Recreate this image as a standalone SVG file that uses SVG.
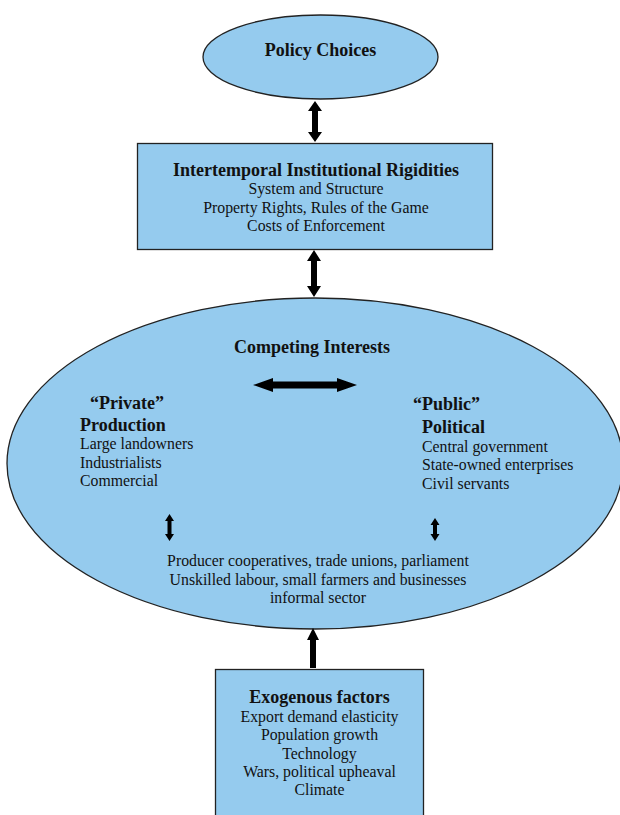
<svg xmlns="http://www.w3.org/2000/svg" width="620" height="815" viewBox="0 0 620 815">
<style>
.shape{fill:#95CBEE;stroke:#222;stroke-width:1.3}
text{font-family:"Liberation Serif","Times New Roman",serif;fill:#111}
.b{font-weight:bold;font-size:18px}
.r{font-size:15.8px}
.c{text-anchor:middle}
.arr{fill:#000}
</style>
<rect width="620" height="815" fill="#fff"/>
<g id="policy">
<ellipse class="shape" cx="320.5" cy="57" rx="117.5" ry="42"/>
<text class="b c" x="320.5" y="56">Policy Choices</text>
</g>
<g id="rigidities">
<rect class="shape" x="137.5" y="143.5" width="355" height="106"/>
<text class="b c" x="316" y="176">Intertemporal Institutional Rigidities</text>
<text class="r c" x="316" y="194">System and Structure</text>
<text class="r c" x="316" y="213">Property Rights, Rules of the Game</text>
<text class="r c" x="316" y="231">Costs of Enforcement</text>
</g>
<g id="competing">
<ellipse class="shape" cx="315" cy="463.5" rx="308" ry="165.5"/>
<text class="b c" x="312" y="353">Competing Interests</text>
<text class="b" x="90" y="409">“Private”</text>
<text class="b" x="80" y="431">Production</text>
<text class="r" x="80" y="449">Large landowners</text>
<text class="r" x="80" y="468">Industrialists</text>
<text class="r" x="80" y="486">Commercial</text>
<text class="b" x="413" y="410">“Public”</text>
<text class="b" x="422" y="433">Political</text>
<text class="r" x="422" y="452">Central government</text>
<text class="r" x="422" y="470">State-owned enterprises</text>
<text class="r" x="422" y="489">Civil servants</text>
<text class="r c" x="318" y="566">Producer cooperatives, trade unions, parliament</text>
<text class="r c" x="318" y="585">Unskilled labour, small farmers and businesses</text>
<text class="r c" x="318" y="603">informal sector</text>
</g>
<g id="exogenous">
<rect class="shape" x="215.5" y="669.5" width="208" height="160"/>
<text class="b c" x="319.5" y="703">Exogenous factors</text>
<text class="r c" x="319.5" y="722">Export demand elasticity</text>
<text class="r c" x="319.5" y="740">Population growth</text>
<text class="r c" x="319.5" y="759">Technology</text>
<text class="r c" x="319.5" y="777">Wars, political upheaval</text>
<text class="r c" x="319.5" y="795">Climate</text>
</g>
<g id="connectors">
<polygon class="arr" points="315,101 322,111 318,111 318,132 322,132 315,142 308,132 312,132 312,111 308,111"/>
<polygon class="arr" points="314,250 321,261 317,261 317,286 321,286 314,297 307,286 311,286 311,261 307,261"/>
<polygon class="arr" points="253,385 273,378 273,381.5 337,381.5 337,378 357,385 337,392 337,388.5 273,388.5 273,392"/>
<polygon class="arr" points="169.5,514 174,521 171.5,521 171.5,534 174,534 169.5,541 165,534 167.5,534 167.5,521 165,521"/>
<polygon class="arr" points="435,518 439.5,525 437,525 437,534 439.5,534 435,541 430.5,534 433,534 433,525 430.5,525"/>
<polygon class="arr" points="313,628 319,640 316,640 316,668 310,668 310,640 307,640"/>
</g>
</svg>
